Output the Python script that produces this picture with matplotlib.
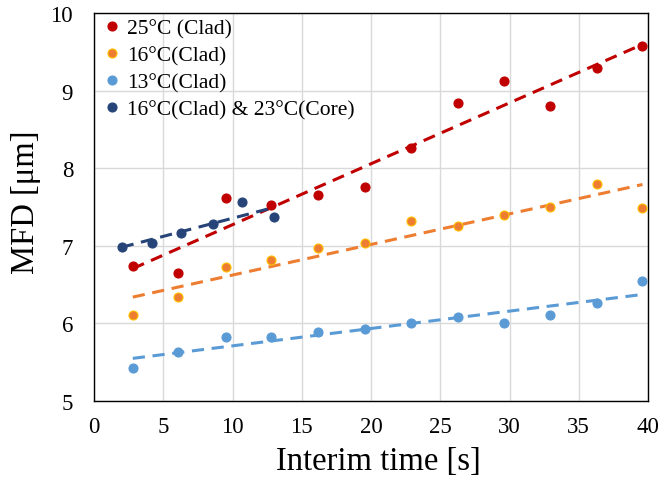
#!/usr/bin/env python
# -*- coding: utf-8 -*-

import numpy as np
import matplotlib
matplotlib.use('Agg')
import matplotlib.pyplot as plt

plt.rcParams['font.family'] = ['Liberation Serif', 'DejaVu Serif']

# interim time [s]
t_clad = [2.8, 6.1, 9.5, 12.8, 16.2, 19.6, 22.9, 26.3, 29.6, 32.9, 36.3, 39.6]
t_core = [2.0, 4.2, 6.3, 8.6, 10.7, 13.0]

# MFD [um]
mfd_25 = [6.74, 6.65, 7.62, 7.52, 7.66, 7.76, 8.26, 8.84, 9.12, 8.80, 9.29, 9.57]
mfd_16 = [6.11, 6.34, 6.73, 6.82, 6.97, 7.04, 7.32, 7.26, 7.40, 7.50, 7.80, 7.49]
mfd_13 = [5.43, 5.63, 5.83, 5.83, 5.89, 5.93, 6.00, 6.08, 6.00, 6.11, 6.26, 6.55]
mfd_core = [6.99, 7.04, 7.17, 7.28, 7.57, 7.37]

series = [
    ('25°C (Clad)', t_clad, mfd_25, '#C00000', '#C00000'),
    ('16°C(Clad)', t_clad, mfd_16, '#ED7D31', '#FFC000'),
    ('13°C(Clad)', t_clad, mfd_13, '#5B9BD5', '#5B9BD5'),
    ('16°C(Clad) & 23°C(Core)', t_core, mfd_core, '#264478', '#264478'),
]

fig = plt.figure(figsize=(6.63, 4.81), dpi=100)
ax = fig.add_axes([94/663, 1-402/481, (648-94)/663, (402-14)/481])

for label, x, y, c, ec in series:
    ax.plot(x, y, 'o', color=c, markeredgecolor=ec, markeredgewidth=0.8,
            markersize=6.5, label=label, zorder=3)
    # linear trendline
    k, b = np.polyfit(x, y, 1)
    xs = np.array([min(x), max(x)])
    ax.plot(xs, k*xs + b, '--', color=c, linewidth=2.2, dashes=(4, 2.5), zorder=2)

ax.set_xlim(0, 40)
ax.set_ylim(5, 10)
ax.set_xticks(range(0, 41, 5))
ax.set_yticks(range(5, 11))
ax.grid(True, color='#D9D9D9', linewidth=1)
ax.set_axisbelow(True)
ax.tick_params(length=0, labelsize=16.5)
ax.tick_params(axis='x', pad=11)
ax.tick_params(axis='y', pad=15)
for s in ax.spines.values():
    s.set_color('#000000')
    s.set_linewidth(1.0)

ax.set_xlabel('Interim time [s]', fontsize=23.5, labelpad=6)
ax.set_ylabel('MFD [μm]', fontsize=23.5, labelpad=7)
ax.xaxis.label.set_x(0.513)
ax.yaxis.label.set_y(0.515)

ax.legend(loc='upper left', frameon=False, fontsize=15.5, handletextpad=0.1,
          borderaxespad=0.0, labelspacing=0.32, handlelength=1.2,
          borderpad=0.25)

fig.savefig('out.png', dpi=100)
